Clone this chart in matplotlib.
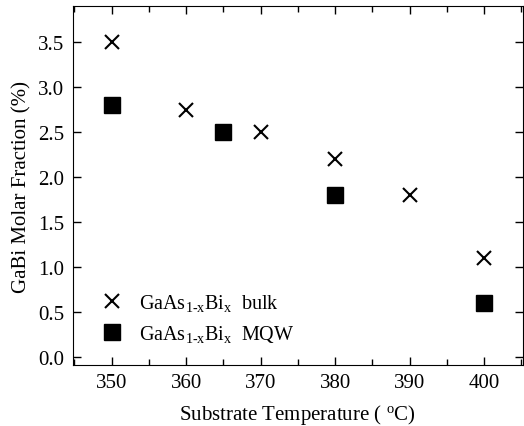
import numpy as np
import matplotlib.pyplot as plt

plt.rcParams['font.family'] = 'Liberation Serif'
plt.rcParams['mathtext.fontset'] = 'custom'
plt.rcParams['mathtext.rm'] = 'Liberation Serif'
plt.rcParams['mathtext.it'] = 'Liberation Serif'

# data
bulk_T = np.array([350, 360, 370, 380, 390, 400])
bulk_x = np.array([3.5, 2.75, 2.5, 2.2, 1.8, 1.1])
mqw_T = np.array([350, 365, 380, 400])
mqw_x = np.array([2.8, 2.5, 1.8, 0.6])

fig = plt.figure(figsize=(5.24, 4.27), dpi=100)
ax = fig.add_axes([0.139, 0.143, 0.859, 0.840])

ax.plot(bulk_T, bulk_x, 'x', color='black', markersize=10, markeredgewidth=1.5,
        label=r'GaAs$_{\mathregular{1\text{-}x}}$Bi$_{\mathregular{x}}$  bulk')
ax.plot(mqw_T, mqw_x, 's', color='black', markersize=12,
        label=r'GaAs$_{\mathregular{1\text{-}x}}$Bi$_{\mathregular{x}}$  MQW')

ax.set_xlim(344.8, 405.2)
ax.set_ylim(-0.09, 3.9)
ax.set_xticks(np.arange(350, 401, 10))
ax.set_xticks(np.arange(345, 406, 5), minor=True)
ax.set_yticks(np.arange(0, 3.6, 0.5))
ax.yaxis.set_major_formatter(plt.FormatStrFormatter('%.1f'))
ax.tick_params(direction='in', top=True, right=True, labelsize=15, length=6, width=1, pad=6)
ax.tick_params(which='minor', direction='in', top=True, bottom=True, length=4, width=1)
ax.tick_params(axis='y', which='minor', left=False, right=False)

ax.set_xlabel(r'Substrate Temperature ( $\mathregular{^{o}}$C)', fontsize=15, labelpad=7)
ax.set_ylabel('GaBi Molar Fraction (%)', fontsize=15, labelpad=5)

ax.legend(loc='center left', bbox_to_anchor=(0.053, 0.13), frameon=False, fontsize=14.5,
          handletextpad=0.6, labelspacing=0.5, borderaxespad=0, borderpad=0,
          handlelength=1.5)

plt.savefig('out.png', dpi=100)
